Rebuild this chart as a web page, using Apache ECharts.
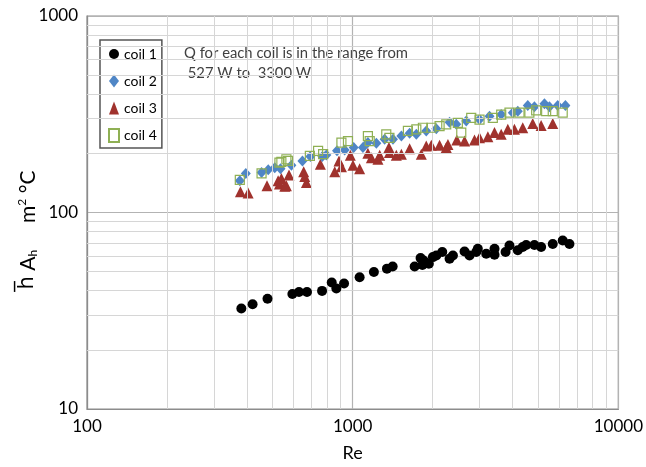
<!DOCTYPE html>
<html><head><meta charset="utf-8">
<script src="https://cdn.jsdelivr.net/npm/echarts@6/dist/echarts.min.js"></script>
<style>html,body{margin:0;padding:0;background:#fff}#c{width:646px;height:467px}</style>
</head><body><div id="c"></div>
<script>
// ---- data (Re, h·A_h) ----
const coil1Re = [381,420,478,593,628,673,767,834,868,928,1062,1202,1346,1414,1711,1801,1849,1935,2004,2064,2174,2316,2384,2637,2753,2918,2958,3182,3419,3419,3762,3892,4183,4366,4498,4831,5121,5664,6174,6545,1830];
const coil1H  = [32.5,34.1,36.4,38.5,39.4,39.4,39.9,44,41,43.5,46.8,49.8,51.8,53.1,53.1,58.6,57,54.8,59.3,60.4,62.9,58.2,60.4,63.3,60.4,62.9,65.3,61.7,65.3,60.9,62.9,67.9,64.3,66.7,68.4,68.4,66.7,69.2,72,69.2,54];

const coil2Re = [376,396,454,481,509,535,588,647,693,769,796,873,933,1009,1093,1141,1228,1319,1418,1525,1638,1736,1892,2064,2316,2454,2676,3002,3273,3623,4006,4183,4561,4831,5270,5504,5913,6320];
const coil2H  = [145,158,160,165,169,167,174,183,193,193,196,206,208,214,214,227,225,236,236,245,253,250,260,267,288,281,292,297,309,315,322,328,350,345,358,345,350,350];

const coil3Re = [378,404,476,524,530,563,539,555,576,654,660,670,756,856,888,907,980,1003,1062,1141,1176,1245,1264,1369,1375,1460,1525,1638,1813,1892,1977,2124,2250,2283,2466,2637,2874,3002,3227,3419,3623,3836,4064,4366,4761,5121,5664];
const coil3H  = [127.5,125.6,137,145,139.5,137,149,136,155,161,152.5,142,176,161,183,171,195.6,174,167,200,190,186.6,195.6,214,202,195.6,198,211,198,218,220,220,214,222,234,231,234,240,243,255,250,265,265,270,284,277,284];

const coil4Re = [376,454,530,563,539,571,690,741,774,907,960,1141,1159,1338,1375,1614,1736,1838,1977,2124,2250,2488,2563,2794,3002,3369,3623,3892,4246,4625,4905,5348,5664,6174];
const coil4H  = [146.6,158,179.5,186.6,181,183,194,206,198,227,231,245,231,250,240,260,265,270,270,275,281,286,255,303,297,303,315,322,322,322,331,328,328,322];

const seriesNames = ['coil 1','coil 2','coil 3','coil 4'];
const xMinorTicks = [200,300,400,500,600,700,800,900,2000,3000,4000,5000,6000,7000,8000,9000];
const yMinorTicks = [20,30,40,50,60,70,80,90,200,300,400,500,600,700,800,900];
const noteLines = ['Q for each coil is in the range from', ' 527 W to  3300 W'];

const FONT = 'Lato, "Open Sans", sans-serif';
const zip = (a, b) => a.map((v, i) => [v, b[i]]);

const chart = echarts.init(document.getElementById('c'), null, {renderer: 'canvas'});
chart.setOption({
  animation: false,
  backgroundColor: '#fff',
  textStyle: {fontFamily: FONT},
  grid: {left: 87, right: 27, top: 16, bottom: 56, show: true, borderColor: '#8c8c8c', borderWidth: 1.2},
  legend: {
    data: seriesNames,
    orient: 'vertical',
    left: 100, top: 40,
    backgroundColor: '#fff',
    borderColor: '#555', borderWidth: 1.5,
    padding: [7, 5, 5, 8],
    itemGap: 13, itemWidth: 10, itemHeight: 13,
    textStyle: {fontSize: 14, color: '#000', fontFamily: FONT}
  },
  xAxis: {
    type: 'log', logBase: 10, min: 100, max: 10000,
    axisLine: {show: true, lineStyle: {color: '#8c8c8c', width: 1.2}},
    axisTick: {show: false},
    splitLine: {show: true, lineStyle: {color: '#b3b3b3', width: 1.2}},
    axisLabel: {color: '#000', fontSize: 17, margin: 9, fontFamily: FONT, formatter: v => String(Math.round(v))},
    name: 'Re', nameLocation: 'middle', nameGap: 35,
    nameTextStyle: {fontSize: 18, color: '#000', fontFamily: FONT}
  },
  yAxis: {
    type: 'log', logBase: 10, min: 10, max: 1000,
    axisLine: {show: true, lineStyle: {color: '#8c8c8c', width: 1.2}},
    axisTick: {show: false},
    splitLine: {show: true, lineStyle: {color: '#b3b3b3', width: 1.2}},
    axisLabel: {color: '#000', fontSize: 17, margin: 9, fontFamily: FONT, formatter: v => String(Math.round(v))}
  },
  graphic: [
    {
      type: 'text', left: 184, top: 43, silent: true,
      style: {text: noteLines.join('\n'), fill: '#404040', fontSize: 14.8, fontFamily: FONT, lineHeight: 20}
    },
    {
      type: 'text', x: 28, y: 230, rotation: Math.PI / 2, silent: true,
      style: {
        text: '{o|h\u0305}{a| A}{s|h}{a|     m}{p|2}{a| \u00B0C}',
        align: 'center', verticalAlign: 'middle',
        rich: {
          o: {fontSize: 21, fill: '#000', fontFamily: '"DejaVu Sans"'},
          a: {fontSize: 21, fill: '#000', fontFamily: FONT},
          s: {fontSize: 12, fill: '#000', fontFamily: FONT, padding: [11, 0, 0, 0]},
          p: {fontSize: 12, fill: '#000', fontFamily: FONT, padding: [0, 0, 11, 0]}
        }
      }
    }
  ],
  series: [
    {
      name: 'minor grid', type: 'line', data: [], z: 1, silent: true,
      markLine: {
        silent: true, symbol: 'none', animation: false,
        label: {show: false},
        lineStyle: {color: '#d6d6d6', width: 1, type: 'solid'},
        emphasis: {disabled: true},
        data: xMinorTicks.map(v => ({xAxis: v})).concat(yMinorTicks.map(v => ({yAxis: v})))
      }
    },
    {name: 'coil 1', type: 'scatter', z: 5, symbol: 'circle', symbolSize: 10,
     itemStyle: {color: '#000', opacity: 1}, data: zip(coil1Re, coil1H)},
    {name: 'coil 2', type: 'scatter', z: 4, symbol: 'diamond', symbolSize: [10, 11],
     itemStyle: {color: '#4f86c6', opacity: 1}, data: zip(coil2Re, coil2H)},
    {name: 'coil 3', type: 'scatter', z: 3, symbol: 'triangle', symbolSize: 11,
     itemStyle: {color: '#a0322d', opacity: 1}, data: zip(coil3Re, coil3H)},
    {name: 'coil 4', type: 'scatter', z: 6, symbol: 'rect', symbolSize: 9,
     itemStyle: {color: 'rgba(0,0,0,0)', borderColor: '#8fb054', borderWidth: 1.2, opacity: 1}, data: zip(coil4Re, coil4H)}
  ]
});
</script>
</body></html>
